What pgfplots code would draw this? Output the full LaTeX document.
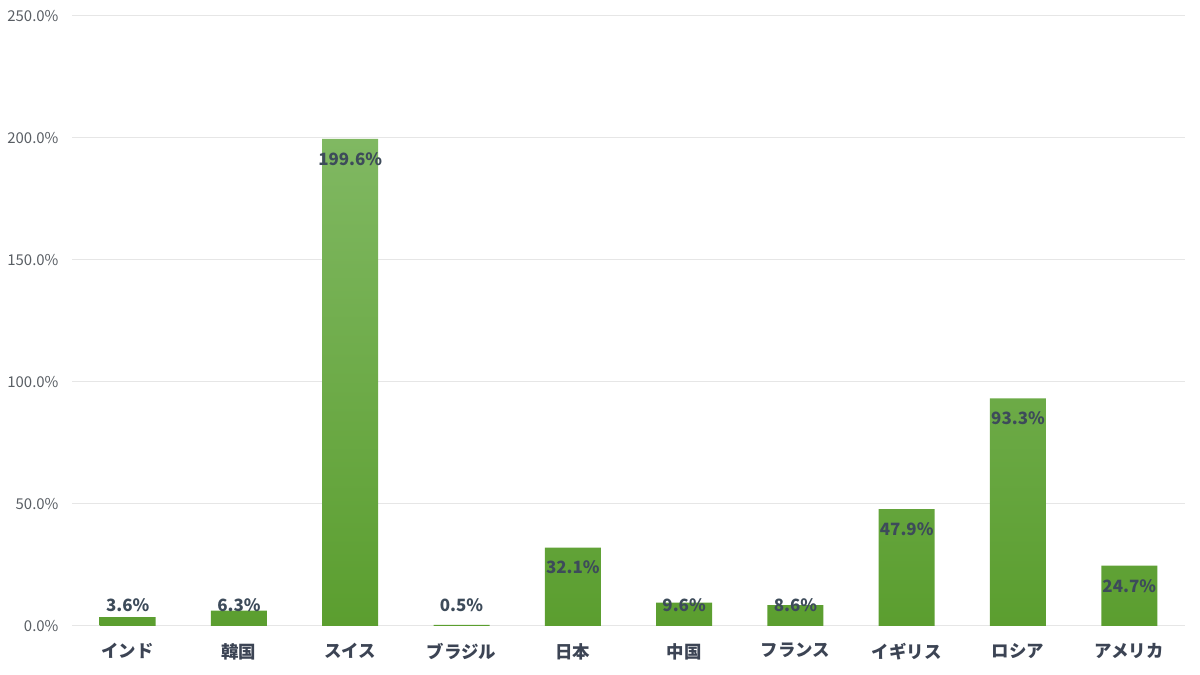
\documentclass[border=0pt]{standalone}
\usepackage{pgfplots}
\pgfplotsset{compat=1.18}
\usepackage{pgfplotstable}
\usepackage{fontspec}
\setmainfont{Noto Sans CJK JP}

\definecolor{barTop}{HTML}{80B862}
\definecolor{barBot}{HTML}{5B9E2F}
\definecolor{tickGray}{HTML}{595E64}
\definecolor{catText}{HTML}{3C4454}
\definecolor{valText}{HTML}{3D4B5A}
\definecolor{gridGray}{HTML}{E6E6E6}

% x, value, label y (just under the bar top, never below 8.6)
\pgfplotstableread{
x v ly
0 3.6 8.4
1 6.3 8.4
2 199.6 191.4
3 0.5 8.4
4 32.1 23.9
5 9.6 8.4
6 8.6 8.4
7 47.9 39.7
8 93.3 85.1
9 24.7 16.5
}\rates

\begin{document}
\begin{tikzpicture}
\useasboundingbox (0,0) rectangle (1200bp,675bp);
\begin{axis}[
    at={(72bp,49bp)}, anchor=south west,
    scale only axis,
    width=1113bp, height=610bp,
    xmin=-0.5, xmax=9.5,
    ymin=0, ymax=250,
    ytick={0,50,100,150,200,250},
    yticklabel={\pgfmathprintnumber[fixed,fixed zerofill,precision=1]{\tick}\%},
    /pgf/number format/assume math mode=true,
    yticklabel style={font=\fontsize{15}{18}\selectfont, text=tickGray, anchor=east, xshift=-10bp},
    xtick={0,...,9},
    xticklabels={インド,韓国,スイス,ブラジル,日本,中国,フランス,イギリス,ロシア,アメリカ},
    xticklabel style={font=\fontsize{17.5}{20}\selectfont\bfseries, text=catText, anchor=north, inner sep=0pt, yshift=-17bp},
    major tick length=0pt,
    axis line style={draw=none},
    ymajorgrids, grid style={gridGray, line width=1bp},
    clip=false,
]
\addplot[ybar, bar width=56bp, draw=none, top color=barTop, bottom color=barBot]
    table[x=x, y=v] {\rates};
\addplot[draw=none, mark=none,
    point meta=\thisrow{v},
    nodes near coords={\pgfmathprintnumber[fixed,fixed zerofill,precision=1]{\pgfplotspointmeta}\%},
    every node near coord/.append style={anchor=center, font=\fontsize{17}{20}\selectfont\bfseries, text=valText}]
    table[x=x, y=ly] {\rates};
\end{axis}
\end{tikzpicture}
\end{document}
